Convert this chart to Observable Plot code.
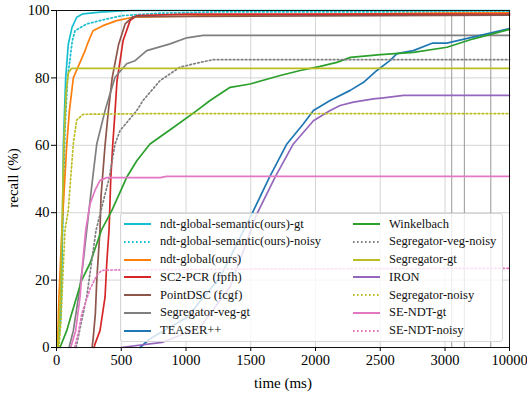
<!DOCTYPE html>
<html><head><meta charset="utf-8">
<script src="https://cdn.jsdelivr.net/npm/d3@7"></script>
<script src="https://cdn.jsdelivr.net/npm/@observablehq/plot@0.6"></script>
<style>
body{margin:0;background:#fff;}
#wrap{position:relative;width:527px;height:394px;font-family:"Liberation Serif",serif;}
#legend{position:absolute;left:120px;top:213px;width:381px;height:127px;border:1px solid #d6d6d6;border-radius:3px;background:rgba(255,255,255,0.8);}
.item{position:absolute;height:16px;display:flex;align-items:center;font-size:12.5px;color:#111;white-space:nowrap;}
.item svg{display:block;margin-right:9px;}
.axlabel{position:absolute;font-size:15px;color:#000;white-space:nowrap;}
</style></head><body><div id="wrap"></div>
<script>
// time (ms), recall (%)
const ndtSemGt = [[12,0],[35,10],[46,35],[53,60],[71,80],[91,90],[120,95],[156,98],[205,99],[336,99.5],[568,100],[10000,100]];
const ndtSemNoisy = [[15,0],[35,15],[50,40],[66,65],[86,80],[122,91],[143,94],[233,96],[388,97.5],[514,98.5],[800,99.2],[1263,99.6],[10000,99.6]];
const ndtGlobal = [[8,0],[19,15],[42,35],[79,60],[99,70],[130,80],[220,88],[238,90],[282,94],[359,95.5],[465,97],[591,98],[1109,98.4],[1882,98.8],[3000,99.2],[10000,99.3]];
const sc2pcr = [[290,0],[297,1],[336,5],[375,15],[388,25],[406,35],[419,50],[434,60],[452,70],[467,79],[514,91],[568,97],[620,98.5],[1000,98.9],[10000,98.9]];
const pointDsc = [[275,0],[284,3],[300,10],[311,20],[336,35],[344,45],[375,60],[400,70],[430,80],[480,90],[530,96],[590,98.2],[10000,98.6]];
const segVegGt = [[97,0],[130,5],[170,15],[205,25],[233,34.7],[280,50.5],[311,60.4],[375,70.3],[452,80.2],[542,84.2],[607,85.1],[697,88.1],[877,90.1],[1006,91.9],[1132,92.6],[10000,92.6]];
const teaser = [[645,0],[722,2.6],[1006,8.9],[1263,20.8],[1508,39.6],[1644,50.5],[1779,60.4],[1907,66.4],[1984,70.3],[2113,73.3],[2268,76.3],[2371,78.7],[2474,82.2],[2577,85.2],[2629,87.2],[2755,88.1],[2900,90.3],[3200,90.3],[10000,94.6]];
const winkelbach = [[27,0],[79,5],[117,10],[195,20],[259,25],[349,35],[427,40.6],[542,50.5],[620,55.4],[722,60.4],[902,65.3],[1083,70.3],[1186,73.3],[1341,77.2],[1495,78.2],[1727,80.7],[1882,82.2],[2036,83.4],[2165,84.6],[2270,86.1],[2502,86.9],[2757,87.6],[3218,89.1],[6082,91.6],[10000,94.4]];
const segVegNoisy = [[151,0],[233,15],[305,34.7],[408,50.5],[452,60.4],[491,64.4],[620,70.3],[668,73.3],[800,79.2],[954,83.2],[1109,84.6],[1209,85.4],[10000,85.4]];
const segGt = [[10,0],[30,15],[45,40],[58,62],[75,76],[92,81.5],[115,82.8],[10000,82.8]];
const iron = [[498,0],[815,1.5],[1109,6],[1341,18],[1547,39.6],[1687,50.5],[1829,60.4],[1984,67.3],[2113,70.3],[2190,71.8],[2293,72.8],[2448,73.8],[2525,74.1],[2680,74.8],[10000,74.8]];
const segNoisy = [[19,0],[35,8],[50,22],[66,35],[91,40.6],[110,50.5],[130,60.5],[156,67.5],[205,69.2],[723,69.4],[10000,69.4]];
const seNdtGt = [[110,0],[148,5],[182,15],[202,25],[226,35],[259,42.6],[297,46.6],[336,49.6],[388,50.4],[800,50.4],[850,50.8],[10000,50.8]];
const seNdtNoisy = [[140,0],[172,5],[195,10],[259,17.4],[311,21.4],[349,22.9],[437,23],[1500,23.3],[10000,23.5]];

const labels = ["ndt-global-semantic(ours)-gt","ndt-global-semantic(ours)-noisy","ndt-global(ours)","SC2-PCR (fpfh)","PointDSC (fcgf)","Segregator-veg-gt","TEASER++","Winkelbach","Segregator-veg-noisy","Segregator-gt","IRON","Segregator-noisy","SE-NDT-gt","SE-NDT-noisy"];
const colors = ["#17becf","#17becf","#ff7f0e","#d62728","#8c564b","#7f7f7f","#1f77b4","#2ca02c","#7f7f7f","#bcbd22","#9467bd","#bcbd22","#e377c2","#e377c2"];
const dotted = [false,true,false,false,false,false,false,false,true,false,false,true,false,true];
const seriesData = [ndtSemGt,ndtSemNoisy,ndtGlobal,sc2pcr,pointDsc,segVegGt,teaser,winkelbach,segVegNoisy,segGt,iron,segNoisy,seNdtGt,seNdtNoisy];

const xTicks = [0,500,1000,1500,2000,2500,3000,10000];
const yTicks = [0,20,40,60,80,100];
const xGrid = [500,1000,1500,2000,2500,3000];
const xExtraGrid = [3730,5100,7970];
const yGrid = [20,40,60,80];
const xLabel = "time (ms)";
const yLabel = "recall (%)";

const DASH = "1.6,2.4";
const series = labels.map((name,i)=>({name, color:colors[i], dotted:dotted[i], data:seriesData[i]}));

const marks = [
  Plot.ruleY(yGrid, {stroke:"#d0d0d0", strokeWidth:0.9}),
  Plot.ruleX(xGrid, {stroke:"#d0d0d0", strokeWidth:0.9}),
  Plot.ruleX(xExtraGrid, {stroke:"#8c8c8c", strokeWidth:0.9}),
  ...series.map(s => Plot.line(s.data, {x: d=>d[0], y: d=>d[1], stroke: s.color, strokeWidth: 1.7,
      strokeDasharray: s.dotted ? DASH : undefined})),
  Plot.frame({stroke:"#111", strokeWidth:1})
];

const chart = Plot.plot({
  width:527, height:394,
  marginLeft:56, marginRight:18, marginTop:10, marginBottom:47,
  style:{fontFamily:"'Liberation Serif', serif", fontSize:"14.5px", color:"#000", background:"white"},
  x:{type:"linear", domain:[0,3000,10000], range:[56,444.5,509], ticks:xTicks, tickFormat:d=>String(d),
     tickSize:4, tickPadding:3, label:null},
  y:{domain:[0,100], ticks:yTicks, tickFormat:d=>String(d), tickSize:5, tickPadding:2, label:null},
  marks
});

const wrap = document.getElementById("wrap");
wrap.appendChild(chart);

const xl = document.createElement("div");
xl.className = "axlabel"; xl.textContent = xLabel;
xl.style.left = "283px"; xl.style.top = "383px"; xl.style.transform = "translate(-50%,-50%)";
wrap.appendChild(xl);
const yl = document.createElement("div");
yl.className = "axlabel"; yl.textContent = yLabel;
yl.style.left = "13px"; yl.style.top = "178px"; yl.style.transform = "translate(-50%,-50%) rotate(-90deg)";
wrap.appendChild(yl);

const legend = document.createElement("div");
legend.id = "legend";
series.forEach((s,i)=>{
  const col = i < 7 ? 0 : 1, row = i % 7;
  const it = document.createElement("div");
  it.className = "item";
  it.style.left = (col === 0 ? 3 : 232) + "px";
  it.style.top = (10 + row*17.75 - 8) + "px";
  const ns = "http://www.w3.org/2000/svg";
  const sv = document.createElementNS(ns,"svg");
  sv.setAttribute("width","27"); sv.setAttribute("height","6");
  const ln = document.createElementNS(ns,"line");
  ln.setAttribute("x1","0"); ln.setAttribute("x2","27"); ln.setAttribute("y1","3"); ln.setAttribute("y2","3");
  ln.setAttribute("stroke", s.color); ln.setAttribute("stroke-width","2");
  if (s.dotted) ln.setAttribute("stroke-dasharray", DASH);
  sv.appendChild(ln);
  it.appendChild(sv);
  const tx = document.createElement("span");
  tx.textContent = s.name;
  it.appendChild(tx);
  legend.appendChild(it);
});
wrap.appendChild(legend);
</script></body></html>
